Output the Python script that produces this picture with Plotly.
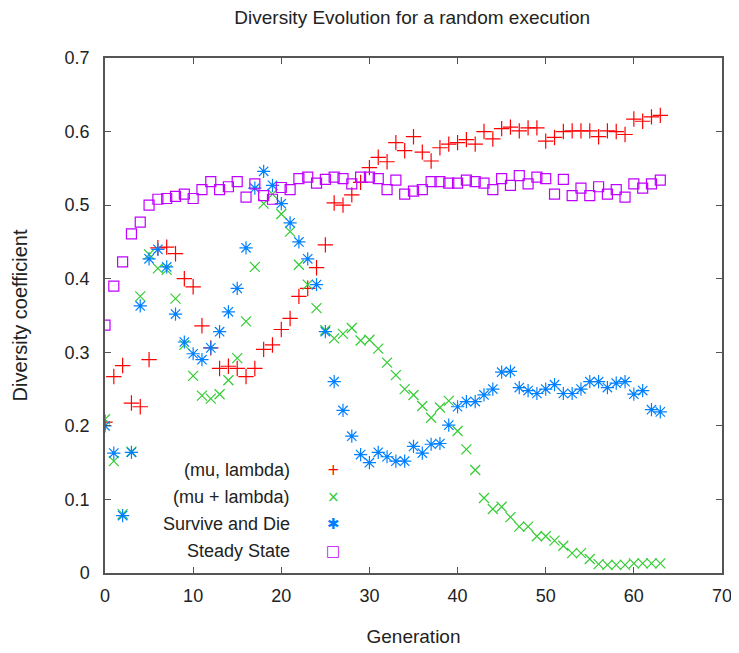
import plotly.graph_objects as go

generations = list(range(64))

mu_comma_lambda = [0.205, 0.267, 0.282, 0.231, 0.226, 0.290, 0.442, 0.443, 0.434, 0.400,
                   0.389, 0.336, 0.306, 0.278, 0.281, 0.278, 0.267, 0.278, 0.304, 0.310,
                   0.331, 0.346, 0.376, 0.387, 0.415, 0.446, 0.503, 0.500, 0.514, 0.531,
                   0.551, 0.565, 0.559, 0.585, 0.574, 0.593, 0.572, 0.560, 0.578, 0.583,
                   0.585, 0.589, 0.583, 0.600, 0.590, 0.604, 0.606, 0.601, 0.605, 0.605,
                   0.587, 0.592, 0.600, 0.601, 0.601, 0.601, 0.593, 0.601, 0.600, 0.596,
                   0.617, 0.614, 0.620, 0.622]

mu_plus_lambda = [0.209, 0.152, 0.080, 0.165, 0.376, 0.433, 0.414, 0.412, 0.373, 0.310,
                  0.268, 0.241, 0.237, 0.243, 0.262, 0.292, 0.342, 0.416, 0.502, 0.515,
                  0.488, 0.464, 0.419, 0.392, 0.360, 0.330, 0.319, 0.325, 0.333, 0.316,
                  0.317, 0.305, 0.286, 0.269, 0.250, 0.242, 0.227, 0.211, 0.225, 0.234,
                  0.193, 0.168, 0.140, 0.102, 0.087, 0.090, 0.076, 0.063, 0.063, 0.050,
                  0.050, 0.044, 0.037, 0.027, 0.027, 0.019, 0.012, 0.011, 0.011, 0.011,
                  0.013, 0.013, 0.013, 0.013]

survive_and_die = [0.200, 0.163, 0.078, 0.164, 0.363, 0.427, 0.440, 0.416, 0.352, 0.314,
                   0.298, 0.290, 0.306, 0.328, 0.355, 0.387, 0.442, 0.523, 0.546, 0.527,
                   0.502, 0.476, 0.450, 0.427, 0.392, 0.328, 0.260, 0.221, 0.186, 0.161,
                   0.150, 0.164, 0.158, 0.152, 0.152, 0.172, 0.163, 0.175, 0.176, 0.201,
                   0.226, 0.233, 0.233, 0.242, 0.250, 0.273, 0.274, 0.252, 0.248, 0.244,
                   0.250, 0.256, 0.244, 0.244, 0.250, 0.260, 0.260, 0.252, 0.258, 0.260,
                   0.243, 0.248, 0.222, 0.219]

steady_state = [0.337, 0.390, 0.423, 0.461, 0.477, 0.500, 0.508, 0.509, 0.512, 0.515,
                0.509, 0.521, 0.532, 0.521, 0.525, 0.532, 0.511, 0.529, 0.513, 0.508,
                0.524, 0.521, 0.536, 0.538, 0.530, 0.535, 0.538, 0.536, 0.529, 0.538,
                0.538, 0.536, 0.521, 0.534, 0.515, 0.519, 0.521, 0.532, 0.532, 0.530,
                0.530, 0.534, 0.532, 0.530, 0.521, 0.536, 0.527, 0.540, 0.529, 0.538,
                0.536, 0.515, 0.535, 0.513, 0.523, 0.513, 0.525, 0.515, 0.521, 0.511,
                0.529, 0.523, 0.529, 0.534]

series_names = ["(mu, lambda)", "(mu + lambda)", "Survive and Die", "Steady State"]
x_tick_vals = [0, 10, 20, 30, 40, 50, 60, 70]
y_tick_vals = [0, 0.1, 0.2, 0.3, 0.4, 0.5, 0.6, 0.7]
y_tick_text = ["0", "0.1", "0.2", "0.3", "0.4", "0.5", "0.6", "0.7"]

colors = ["#ff0000", "#33cc33", "#0080ff", "#c000ff"]
symbols = ["cross-thin", "x-thin", "asterisk-open", "square-open"]
sizes = [11, 10, 11, 10]
key_glyphs = ["+", "\u00d7", "\u2731", "\u25a1"]

FONT = "Liberation Sans"
TXT = "#222222"

fig = go.Figure()
for name, ys, c, s, sz in zip(series_names,
                              [mu_comma_lambda, mu_plus_lambda, survive_and_die, steady_state],
                              colors, symbols, sizes):
    fig.add_trace(go.Scatter(
        x=generations, y=ys, mode="markers", name=name,
        marker=dict(symbol=s, size=sz, color=c, line=dict(color=c, width=1.2)),
        showlegend=False,
    ))

# gnuplot-style key: right-aligned text with sample glyph to its right
key_y = [0.200, 0.148, 0.095, 0.043]
annotations = []
for name, c, g, ky in zip(series_names, colors, key_glyphs, key_y):
    annotations.append(dict(xref="paper", yref="paper", x=0.303, y=ky, text=name,
                            showarrow=False, xanchor="right", yanchor="middle",
                            font=dict(family=FONT, size=18, color=TXT)))
    annotations.append(dict(xref="paper", yref="paper", x=0.37, y=ky, text=g,
                            showarrow=False, xanchor="center", yanchor="middle",
                            font=dict(family="DejaVu Sans", size=15, color=c)))

# the page body adds an 8px offset, so the figure is sized 731x645
fig.update_layout(
    width=731, height=645,
    margin=dict(l=97, r=17, t=50, b=80),
    paper_bgcolor="white", plot_bgcolor="white",
    title=dict(text="Diversity Evolution for a random execution", x=0.553, xanchor="center",
               y=0.996, yanchor="top", font=dict(family=FONT, size=19, color=TXT)),
    font=dict(family=FONT, size=18, color=TXT),
    annotations=annotations,
)
fig.update_xaxes(range=[0, 70], tickvals=x_tick_vals, showgrid=False, zeroline=False,
                 showline=True, mirror="ticks", linecolor="#555", linewidth=1.5,
                 ticks="inside", ticklen=6, tickcolor="#555", tickwidth=1.2,
                 ticklabelstandoff=6, automargin=False,
                 title=dict(text="Generation", font=dict(family=FONT, size=19), standoff=24))
fig.update_yaxes(range=[0, 0.7], tickvals=y_tick_vals, ticktext=y_tick_text, showgrid=False,
                 zeroline=False, showline=True, mirror="ticks", linecolor="#555", linewidth=1.5,
                 ticks="inside", ticklen=6, tickcolor="#555", tickwidth=1.2,
                 ticklabelstandoff=10, automargin=False,
                 title=dict(text="Diversity coefficient", font=dict(family=FONT, size=20), standoff=32))

fig.write_html("out.html")
